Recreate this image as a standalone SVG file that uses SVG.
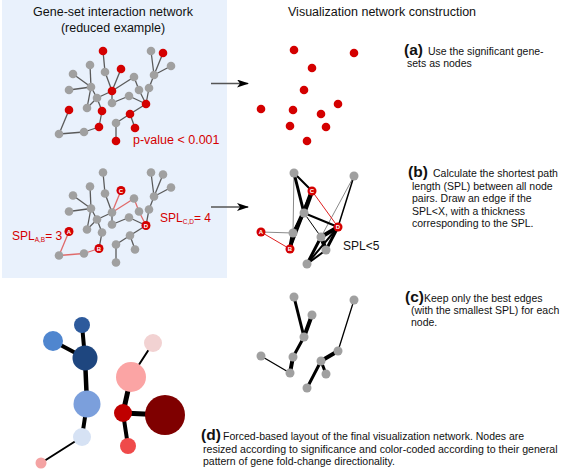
<svg xmlns="http://www.w3.org/2000/svg" width="567" height="472" viewBox="0 0 567 472">
<defs>
<marker id="ah" viewBox="0 0 12 8" markerWidth="12" markerHeight="8" refX="11" refY="4" orient="auto" markerUnits="userSpaceOnUse">
<path d="M0,0 L12,4 L0,8 L3,4 z" fill="#000"/>
</marker>
<style>
text{font-family:"Liberation Sans",Arial,sans-serif}
.t{font-size:12.5px;fill:#111}
.red{font-size:12px;fill:#d40000}
.sub{font-size:6.5px;fill:#d40000}
.body{font-size:10.5px;fill:#111}
.lab{font-size:15.5px;font-weight:bold;fill:#111}
.g{fill:#a0a0a0}
.r{fill:#d40000}
.ltr{font-size:6px;font-weight:bold;fill:#fff;text-anchor:middle}
.e{stroke:#5a5a5a;stroke-width:1.3;fill:none}
.er{stroke:#e06a6a;stroke-width:1.3;fill:none}
.k{stroke:#000;fill:none;stroke-linecap:round}
.kg{stroke:#8a8a8a;stroke-width:1;fill:none}
.kr{stroke:#e02020;stroke-width:1;fill:none}
</style>
</defs>
<rect x="2" y="0" width="225" height="278" fill="#e9f1fc"/>
<text class="t" x="113" y="16" text-anchor="middle">Gene-set interaction network</text>
<text class="t" x="113" y="32" text-anchor="middle">(reduced example)</text>
<text class="t" x="288" y="16">Visualization network construction</text>

<!-- connectors -->
<g id="connectors">
<g id="net1-edges" class="e">
<line x1="103" y1="51" x2="105" y2="72"/><line x1="105" y1="72" x2="112" y2="91"/><line x1="121" y1="69" x2="112" y2="91"/>
<line x1="90" y1="65" x2="91" y2="87"/><line x1="73" y1="74" x2="91" y2="87"/><line x1="69" y1="90" x2="91" y2="87"/>
<line x1="91" y1="87" x2="97" y2="98"/><line x1="91" y1="87" x2="87" y2="108"/><line x1="97" y1="98" x2="87" y2="108"/>
<line x1="97" y1="98" x2="112" y2="91"/><line x1="112" y1="91" x2="134" y2="77"/><line x1="134" y1="77" x2="139" y2="90"/>
<line x1="139" y1="90" x2="146" y2="104"/><line x1="112" y1="91" x2="112" y2="103"/><line x1="112" y1="103" x2="129" y2="96"/>
<line x1="129" y1="96" x2="146" y2="104"/><line x1="149" y1="88" x2="146" y2="104"/><line x1="149" y1="88" x2="154" y2="75"/>
<line x1="154" y1="75" x2="151" y2="51"/><line x1="154" y1="75" x2="163" y2="53"/><line x1="154" y1="75" x2="171" y2="66"/>
<line x1="146" y1="104" x2="130" y2="114"/><line x1="130" y1="114" x2="116" y2="123"/><line x1="130" y1="114" x2="135" y2="128"/>
<line x1="116" y1="123" x2="116" y2="141"/><line x1="97" y1="98" x2="102" y2="111"/><line x1="102" y1="111" x2="99" y2="127"/>
<line x1="99" y1="127" x2="84" y2="132"/><line x1="84" y1="132" x2="59" y2="134"/><line x1="59" y1="134" x2="69" y2="110"/>
</g>
<g id="net2-edges" transform="translate(0,121.5)">
<g class="e">
<line x1="103" y1="51" x2="105" y2="72"/><line x1="105" y1="72" x2="112" y2="91"/>
<line x1="90" y1="65" x2="91" y2="87"/><line x1="73" y1="74" x2="91" y2="87"/><line x1="69" y1="90" x2="91" y2="87"/>
<line x1="91" y1="87" x2="97" y2="98"/><line x1="91" y1="87" x2="87" y2="108"/><line x1="97" y1="98" x2="87" y2="108"/>
<line x1="97" y1="98" x2="112" y2="91"/>
<line x1="112" y1="91" x2="112" y2="103"/><line x1="112" y1="103" x2="129" y2="96"/>
<line x1="129" y1="96" x2="146" y2="104"/><line x1="149" y1="88" x2="146" y2="104"/><line x1="149" y1="88" x2="154" y2="75"/>
<line x1="154" y1="75" x2="151" y2="51"/><line x1="154" y1="75" x2="163" y2="53"/><line x1="154" y1="75" x2="171" y2="66"/>
<line x1="146" y1="104" x2="130" y2="114"/><line x1="130" y1="114" x2="116" y2="123"/><line x1="130" y1="114" x2="135" y2="128"/>
<line x1="116" y1="123" x2="116" y2="141"/><line x1="97" y1="98" x2="102" y2="111"/><line x1="102" y1="111" x2="99" y2="127"/>
</g>
<g class="er">
<line x1="121" y1="69" x2="112" y2="91"/><line x1="112" y1="91" x2="134" y2="77"/><line x1="134" y1="77" x2="139" y2="90"/><line x1="139" y1="90" x2="146" y2="104"/>
<line x1="99" y1="127" x2="84" y2="132"/><line x1="84" y1="132" x2="59" y2="134"/><line x1="59" y1="134" x2="69" y2="110"/>
</g>
</g>
<g id="arrows" stroke="#555" stroke-width="1.5">
<line x1="211" y1="83.5" x2="248" y2="83.5" marker-end="url(#ah)"/>
<line x1="211" y1="207" x2="248" y2="207" marker-end="url(#ah)"/>
</g>
<g id="netb-edges">
<line class="kg" x1="294" y1="173" x2="293" y2="233"/>
<line class="kg" x1="261" y1="232" x2="293" y2="233"/>
<line class="kg" x1="354" y1="176" x2="321" y2="237"/>
<line class="k" stroke-width="1" x1="304" y1="213" x2="321" y2="237"/>
<line class="k" stroke-width="1" x1="312" y1="191" x2="290" y2="249"/>
<line class="k" stroke-width="1.5" x1="354" y1="176" x2="338" y2="227"/>
<line class="k" stroke-width="2" x1="294" y1="173" x2="312" y2="191"/>
<line class="k" stroke-width="3" x1="294" y1="173" x2="304" y2="213"/>
<line class="k" stroke-width="2" x1="312" y1="191" x2="293" y2="233"/>
<line class="k" stroke-width="4.5" x1="312" y1="191" x2="304" y2="213"/>
<line class="k" stroke-width="3" x1="304" y1="213" x2="293" y2="233"/>
<line class="k" stroke-width="2" x1="304" y1="213" x2="290" y2="249"/>
<line class="k" stroke-width="2" x1="304" y1="213" x2="338" y2="227"/>
<line class="k" stroke-width="4" x1="293" y1="233" x2="290" y2="249"/>
<line class="k" stroke-width="4" x1="338" y1="227" x2="321" y2="237"/>
<line class="k" stroke-width="3" x1="338" y1="227" x2="326" y2="250"/>
<line class="k" stroke-width="2" x1="338" y1="227" x2="307" y2="264"/>
<line class="k" stroke-width="4" x1="321" y1="237" x2="326" y2="250"/>
<line class="k" stroke-width="3" x1="321" y1="237" x2="307" y2="264"/>
<line class="k" stroke-width="2" x1="326" y1="250" x2="307" y2="264"/>
<line class="kr" x1="312" y1="191" x2="338" y2="227"/>
<line class="kr" x1="261" y1="232" x2="290" y2="249"/>
</g>
<g id="netc-edges" class="k">
<line stroke-width="3" x1="294" y1="297" x2="304" y2="337"/>
<line stroke-width="4" x1="312" y1="315" x2="304" y2="337"/>
<line stroke-width="3" x1="304" y1="337" x2="293" y2="357"/>
<line stroke-width="4" x1="293" y1="357" x2="290" y2="373"/>
<line stroke-width="1.3" x1="261" y1="356" x2="290" y2="373"/>
<line stroke-width="1.3" x1="354" y1="300" x2="338" y2="351"/>
<line stroke-width="4" x1="338" y1="351" x2="321" y2="361"/>
<line stroke-width="3" x1="321" y1="361" x2="326" y2="374"/>
<line stroke-width="3" x1="321" y1="361" x2="307" y2="388"/>
</g>
<g id="netd-edges" class="k" stroke-linecap="butt">
<line stroke-width="4" x1="82" y1="325" x2="85" y2="358"/>
<line stroke-width="4" x1="53" y1="341" x2="85" y2="358"/>
<line stroke-width="4.5" x1="85" y1="358" x2="87" y2="404"/>
<line stroke-width="4" x1="87" y1="404" x2="82" y2="437"/>
<line stroke-width="2" x1="82" y1="437" x2="41" y2="463"/>
<line stroke-width="2" x1="153" y1="343" x2="131" y2="377"/>
<line stroke-width="5" x1="131" y1="377" x2="123" y2="413"/>
<line stroke-width="5" x1="123" y1="413" x2="165" y2="415"/>
<line stroke-width="4" x1="123" y1="413" x2="128" y2="446"/>
</g>
</g>

<!-- network 1 nodes -->
<g id="net1">
<g id="n1-g1"><circle class="g" cx="90" cy="65" r="4.3"/></g>
<g id="n1-g2"><circle class="g" cx="73" cy="74" r="4.3"/></g>
<g id="n1-g3"><circle class="g" cx="69" cy="90" r="4.3"/></g>
<g id="n1-g4"><circle class="g" cx="91" cy="87" r="4.3"/></g>
<g id="n1-g5"><circle class="g" cx="97" cy="98" r="4.3"/></g>
<g id="n1-g6"><circle class="g" cx="87" cy="108" r="4.3"/></g>
<g id="n1-g7"><circle class="g" cx="105" cy="72" r="4.3"/></g>
<g id="n1-g8"><circle class="g" cx="112" cy="103" r="4.3"/></g>
<g id="n1-g9"><circle class="g" cx="129" cy="96" r="4.3"/></g>
<g id="n1-g10"><circle class="g" cx="134" cy="77" r="4.3"/></g>
<g id="n1-g11"><circle class="g" cx="139" cy="90" r="4.3"/></g>
<g id="n1-g12"><circle class="g" cx="149" cy="88" r="4.3"/></g>
<g id="n1-g13"><circle class="g" cx="154" cy="75" r="4.3"/></g>
<g id="n1-g14"><circle class="g" cx="151" cy="51" r="4.3"/></g>
<g id="n1-g15"><circle class="g" cx="171" cy="66" r="4.3"/></g>
<g id="n1-g16"><circle class="g" cx="116" cy="123" r="4.3"/></g>
<g id="n1-g17"><circle class="g" cx="84" cy="132" r="4.3"/></g>
<g id="n1-g18"><circle class="g" cx="59" cy="134" r="4.3"/></g>
<g id="n1-r1"><circle class="r" cx="103" cy="51" r="4.3"/></g>
<g id="n1-r2"><circle class="r" cx="163" cy="53" r="4.3"/></g>
<g id="n1-r3"><circle class="r" cx="121" cy="69" r="4.3"/></g>
<g id="n1-r4"><circle class="r" cx="112" cy="91" r="4.3"/></g>
<g id="n1-r5"><circle class="r" cx="69" cy="110" r="4.3"/></g>
<g id="n1-r6"><circle class="r" cx="102" cy="111" r="4.3"/></g>
<g id="n1-r7"><circle class="r" cx="146" cy="104" r="4.3"/></g>
<g id="n1-r8"><circle class="r" cx="130" cy="114" r="4.3"/></g>
<g id="n1-r9"><circle class="r" cx="99" cy="127" r="4.3"/></g>
<g id="n1-r10"><circle class="r" cx="135" cy="128" r="4.3"/></g>
<g id="n1-r11"><circle class="r" cx="116" cy="141" r="4.3"/></g>
</g>
<text class="red" x="133" y="144" style="font-size:12.5px">p-value &lt; 0.001</text>

<!-- network 2 nodes -->
<g id="net2" transform="translate(0,121.5)">
<g id="n2-g1"><circle class="g" cx="90" cy="65" r="4.3"/></g>
<g id="n2-g2"><circle class="g" cx="73" cy="74" r="4.3"/></g>
<g id="n2-g3"><circle class="g" cx="69" cy="90" r="4.3"/></g>
<g id="n2-g4"><circle class="g" cx="91" cy="87" r="4.3"/></g>
<g id="n2-g5"><circle class="g" cx="97" cy="98" r="4.3"/></g>
<g id="n2-g6"><circle class="g" cx="87" cy="108" r="4.3"/></g>
<g id="n2-g7"><circle class="g" cx="105" cy="72" r="4.3"/></g>
<g id="n2-g8"><circle class="g" cx="112" cy="103" r="4.3"/></g>
<g id="n2-g9"><circle class="g" cx="129" cy="96" r="4.3"/></g>
<g id="n2-g10"><circle class="g" cx="134" cy="77" r="4.3"/></g>
<g id="n2-g11"><circle class="g" cx="139" cy="90" r="4.3"/></g>
<g id="n2-g12"><circle class="g" cx="149" cy="88" r="4.3"/></g>
<g id="n2-g13"><circle class="g" cx="154" cy="75" r="4.3"/></g>
<g id="n2-g14"><circle class="g" cx="151" cy="51" r="4.3"/></g>
<g id="n2-g15"><circle class="g" cx="171" cy="66" r="4.3"/></g>
<g id="n2-g16"><circle class="g" cx="116" cy="123" r="4.3"/></g>
<g id="n2-g17"><circle class="g" cx="84" cy="132" r="4.3"/></g>
<g id="n2-g18"><circle class="g" cx="59" cy="134" r="4.3"/></g>
<g id="n2-g19"><circle class="g" cx="103" cy="51" r="4.3"/></g>
<g id="n2-g20"><circle class="g" cx="163" cy="53" r="4.3"/></g>
<g id="n2-g21"><circle class="g" cx="112" cy="91" r="4.3"/></g>
<g id="n2-g22"><circle class="g" cx="102" cy="111" r="4.3"/></g>
<g id="n2-g23"><circle class="g" cx="130" cy="114" r="4.3"/></g>
<g id="n2-g24"><circle class="g" cx="135" cy="128" r="4.3"/></g>
<g id="n2-g25"><circle class="g" cx="116" cy="141" r="4.3"/></g>
<g id="n2-C"><circle class="r" cx="121" cy="69" r="4.5"/><text class="ltr" x="121" y="71.2">C</text></g>
<g id="n2-A"><circle class="r" cx="69" cy="110" r="4.5"/><text class="ltr" x="69" y="112.2">A</text></g>
<g id="n2-D"><circle class="r" cx="146" cy="104" r="4.5"/><text class="ltr" x="146" y="106.2">D</text></g>
<g id="n2-B"><circle class="r" cx="99" cy="127" r="4.5"/><text class="ltr" x="99" y="129.2">B</text></g>
</g>
<text class="red" x="12" y="240">SPL<tspan class="sub" dy="2">A,B</tspan><tspan dy="-2">= 3</tspan></text>
<text class="red" x="160" y="222">SPL<tspan class="sub" dy="2">C,D</tspan><tspan dy="-2">= 4</tspan></text>

<!-- panel a nodes -->
<g id="neta">
<g id="na1"><circle class="r" cx="294" cy="50" r="4.3"/></g>
<g id="na2"><circle class="r" cx="354" cy="53" r="4.3"/></g>
<g id="na3"><circle class="r" cx="312" cy="68" r="4.3"/></g>
<g id="na4"><circle class="r" cx="304" cy="90" r="4.3"/></g>
<g id="na5"><circle class="r" cx="261" cy="109" r="4.3"/></g>
<g id="na6"><circle class="r" cx="293" cy="110" r="4.3"/></g>
<g id="na7"><circle class="r" cx="338" cy="104" r="4.3"/></g>
<g id="na8"><circle class="r" cx="321" cy="114" r="4.3"/></g>
<g id="na9"><circle class="r" cx="290" cy="126" r="4.3"/></g>
<g id="na10"><circle class="r" cx="326" cy="127" r="4.3"/></g>
<g id="na11"><circle class="r" cx="307" cy="141" r="4.3"/></g>
</g>

<!-- panel b nodes -->
<g id="netb">
<g id="nb1"><circle class="g" cx="294" cy="173" r="4.5"/></g>
<g id="nb2"><circle class="g" cx="354" cy="176" r="4.5"/></g>
<g id="nb4"><circle class="g" cx="304" cy="213" r="4.5"/></g>
<g id="nb6"><circle class="g" cx="293" cy="233" r="4.5"/></g>
<g id="nb8"><circle class="g" cx="321" cy="237" r="4.5"/></g>
<g id="nb10"><circle class="g" cx="326" cy="250" r="4.5"/></g>
<g id="nb11"><circle class="g" cx="307" cy="264" r="4.5"/></g>
<g id="nb-C"><circle class="r" cx="312" cy="191" r="4.5"/><text class="ltr" x="312" y="193.2">C</text></g>
<g id="nb-A"><circle class="r" cx="261" cy="232" r="4.5"/><text class="ltr" x="261" y="234.2">A</text></g>
<g id="nb-D"><circle class="r" cx="338" cy="227" r="4.5"/><text class="ltr" x="338" y="229.2">D</text></g>
<g id="nb-B"><circle class="r" cx="290" cy="249" r="4.5"/><text class="ltr" x="290" y="251.2">B</text></g>
</g>
<text class="t" x="343" y="250" style="font-size:12px">SPL&lt;5</text>

<!-- panel c nodes -->
<g id="netc">
<g id="nc1"><circle class="g" cx="294" cy="297" r="4.5"/></g>
<g id="nc2"><circle class="g" cx="354" cy="300" r="4.5"/></g>
<g id="nc3"><circle class="g" cx="312" cy="315" r="4.5"/></g>
<g id="nc4"><circle class="g" cx="304" cy="337" r="4.5"/></g>
<g id="nc5"><circle class="g" cx="261" cy="356" r="4.5"/></g>
<g id="nc6"><circle class="g" cx="293" cy="357" r="4.5"/></g>
<g id="nc7"><circle class="g" cx="338" cy="351" r="4.5"/></g>
<g id="nc8"><circle class="g" cx="321" cy="361" r="4.5"/></g>
<g id="nc9"><circle class="g" cx="290" cy="373" r="4.5"/></g>
<g id="nc10"><circle class="g" cx="326" cy="374" r="4.5"/></g>
<g id="nc11"><circle class="g" cx="307" cy="388" r="4.5"/></g>
</g>

<!-- panel d nodes -->
<g id="netd">
<g id="nd1"><circle cx="82" cy="325" r="8" fill="#2d5a9c"/></g>
<g id="nd2"><circle cx="53" cy="341" r="10" fill="#4f86cf"/></g>
<g id="nd3"><circle cx="85" cy="358" r="12.5" fill="#1e467f"/></g>
<g id="nd4"><circle cx="87" cy="404" r="13.5" fill="#7b9fdc"/></g>
<g id="nd5"><circle cx="82" cy="437" r="9" fill="#d6e2f4"/></g>
<g id="nd6"><circle cx="41" cy="463" r="5.5" fill="#f4a3a3"/></g>
<g id="nd7"><circle cx="153" cy="343" r="9" fill="#f2d2d2"/></g>
<g id="nd8"><circle cx="131" cy="377" r="15" fill="#fba4a4"/></g>
<g id="nd9"><circle cx="123" cy="413" r="9" fill="#bf0000"/></g>
<g id="nd10"><circle cx="165" cy="415" r="20" fill="#7f0000"/></g>
<g id="nd11"><circle cx="128" cy="446" r="8" fill="#ef4a4a"/></g>
</g>

<!-- descriptions -->
<text class="lab" x="404" y="55">(a)</text>
<text class="body" x="428" y="55">Use the significant gene-</text>
<text class="body" x="407" y="67">sets as nodes</text>

<text class="lab" x="408" y="177">(b)</text>
<text class="body" x="433" y="177">Calculate the shortest path</text>
<text class="body" x="412" y="190">length (SPL) between all node</text>
<text class="body" x="412" y="202">pairs. Draw an edge if the</text>
<text class="body" x="412" y="215">SPL&lt;X, with a thickness</text>
<text class="body" x="412" y="227">corresponding to the SPL.</text>

<text class="lab" x="405" y="302">(c)</text>
<text class="body" x="424" y="302">Keep only the best edges</text>
<text class="body" x="411" y="314">(with the smallest SPL) for each</text>
<text class="body" x="411" y="326">node.</text>

<text class="lab" x="201" y="440">(d)</text>
<text class="body" x="223" y="440">Forced-based layout of the final visualization network. Nodes are</text>
<text class="body" x="203" y="453" style="font-size:10.6px">resized according to significance and color-coded according to their general</text>
<text class="body" x="203" y="465">pattern of gene fold-change directionality.</text>
</svg>
